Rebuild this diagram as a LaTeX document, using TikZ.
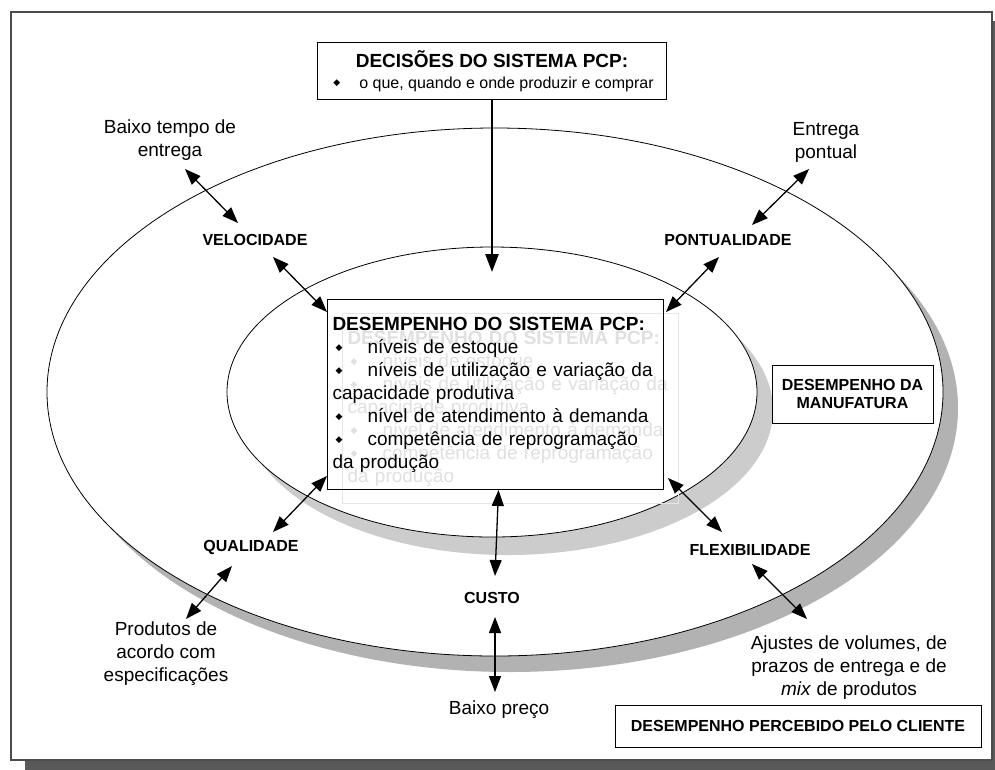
\documentclass[tikz,border=0pt]{standalone}
\usepackage{fontspec}
\setmainfont{Liberation Sans}
\newfontfamily\symfont{DejaVu Sans}
\usetikzlibrary{arrows.meta}

% bullet of the lists
\newcommand{\bul}[1]{\makebox[#1][l]{\hspace{3pt}\raisebox{2.5pt}{\symfont\fontsize{9}{9}\selectfont ◆}}}
\newcommand{\pcptext}{\textbf{DESEMPENHO DO SISTEMA PCP:}\\
\bul{35pt}níveis de estoque\\
\bul{35pt}níveis de utilização e variação da\\
capacidade produtiva\\
\bul{35pt}nível de atendimento à demanda\\
\bul{35pt}competência de reprogramação\\
da produção}

\tikzset{
  lbl/.style={align=center, font=\fontsize{19}{23}\selectfont, inner sep=1pt},
  cat/.style={font=\bfseries\fontsize{16}{18}\selectfont, inner sep=1pt},
  box/.style={draw, line width=1pt, fill=white, inner sep=0pt},
  pcpbox/.style={anchor=north west, line width=1pt, minimum height=190pt,
    text width=326pt, align=left, inner xsep=5pt, font=\fontsize{19}{23}\selectfont},
  arr/.style={-{Triangle[length=15pt,width=11pt]}, line width=1.3pt},
  dbl/.style={{Triangle[length=16pt,width=12pt]}-{Triangle[length=16pt,width=12pt]}, line width=1.3pt},
}

\begin{document}
\begin{tikzpicture}[x=1pt,y=-1pt]
\useasboundingbox (0,0) rectangle (995,769);

% frame
\fill[black!65] (25,21) rectangle (1005,775);
\draw[black!70, line width=1.5pt, fill=white] (11,12) rectangle (992,760);

% ellipses and their shadows
\fill[black!30] (510,408) ellipse [x radius=448, y radius=264];
\draw[fill=white, line width=0.8pt] (495,392) ellipse [x radius=448, y radius=264];
\fill[black!20] (508,410) ellipse [x radius=265, y radius=145];
\draw[fill=white, line width=0.8pt] (492,392) ellipse [x radius=265, y radius=145];

% boxes
\node[box, anchor=north west, minimum width=349pt, minimum height=57pt, align=center,
  font=\fontsize{16}{21}\selectfont] (dec) at (317,42)
  {{\bfseries\fontsize{19}{21}\selectfont DECISÕES DO SISTEMA PCP:}\\
   \bul{29pt}o que, quando e onde produzir e comprar};
\node[pcpbox, draw=black!10, text=black!12] (ghost) at (342,313) {\pcptext};
\node[pcpbox, draw] (pcp) at (327,299) {\pcptext};
\node[box, minimum width=161pt, minimum height=58pt, align=center,
  font=\bfseries\fontsize{16}{18}\selectfont] (manuf) at (852.5,394) {DESEMPENHO DA\\MANUFATURA};
\node[box, minimum width=366pt, minimum height=42pt,
  font=\bfseries\fontsize{16}{18}\selectfont] (cliente) at (798,726) {DESEMPENHO PERCEBIDO PELO CLIENTE};

% performance criteria
\node[cat] (velo) at (255,240) {VELOCIDADE};
\node[cat] (pont) at (728,240) {PONTUALIDADE};
\node[cat] (qual) at (251,547) {QUALIDADE};
\node[cat] (flex) at (750,550) {FLEXIBILIDADE};
\node[cat] (custo) at (492,598) {CUSTO};

% what the client sees
\node[lbl] (tempo) at (170,140) {Baixo tempo de\\entrega};
\node[lbl] (pontual) at (826,142) {Entrega\\pontual};
\node[lbl] (produtos) at (166,654) {Produtos de\\acordo com\\especificações};
\node[lbl] (ajustes) at (849,668) {Ajustes de volumes, de\\prazos de entrega e de\\\emph{mix} de produtos};
\node[lbl] (preco) at (499,710) {Baixo preço};

% arrow ends
\coordinate (dectip) at (492,272);
\coordinate (tempo-b) at (185,169);
\coordinate (velo-t) at (238,223);
\coordinate (velo-b) at (273,257);
\coordinate (pontual-b) at (809,169);
\coordinate (pont-t) at (752,225);
\coordinate (pont-b) at (719,257);
\coordinate (qual-t) at (273,532);
\coordinate (qual-b) at (232,566);
\coordinate (produtos-t) at (186,619);
\coordinate (flex-t) at (722,532);
\coordinate (flex-b) at (752,564);
\coordinate (ajustes-t) at (807,619);
\coordinate (custo-t) at (495,576);
\coordinate (custo-b) at (495,617);
\coordinate (preco-t) at (495,692);

% arrows
\draw[-{Triangle[length=18pt,width=13pt]}, line width=2.5pt] (dec.south) -- (dectip);
\draw[dbl] (tempo-b) -- (velo-t);
\draw[dbl] (velo-b) -- ([yshift=-13pt]pcp.north west);
\draw[dbl] (pontual-b) -- (pont-t);
\draw[dbl] (pont-b) -- ([yshift=-13pt,xshift=2pt]pcp.north east);
\draw[dbl] (qual-t) -- ([yshift=14pt]pcp.south west);
\draw[dbl] (qual-b) -- (produtos-t);
\draw[dbl] (flex-t) -- ([yshift=12pt,xshift=4pt]pcp.south east);
\draw[dbl] (flex-b) -- (ajustes-t);
\draw[dbl] ([xshift=3pt]pcp.south) -- (custo-t);
\draw[dbl] (custo-b) -- (preco-t);
\end{tikzpicture}
\end{document}
